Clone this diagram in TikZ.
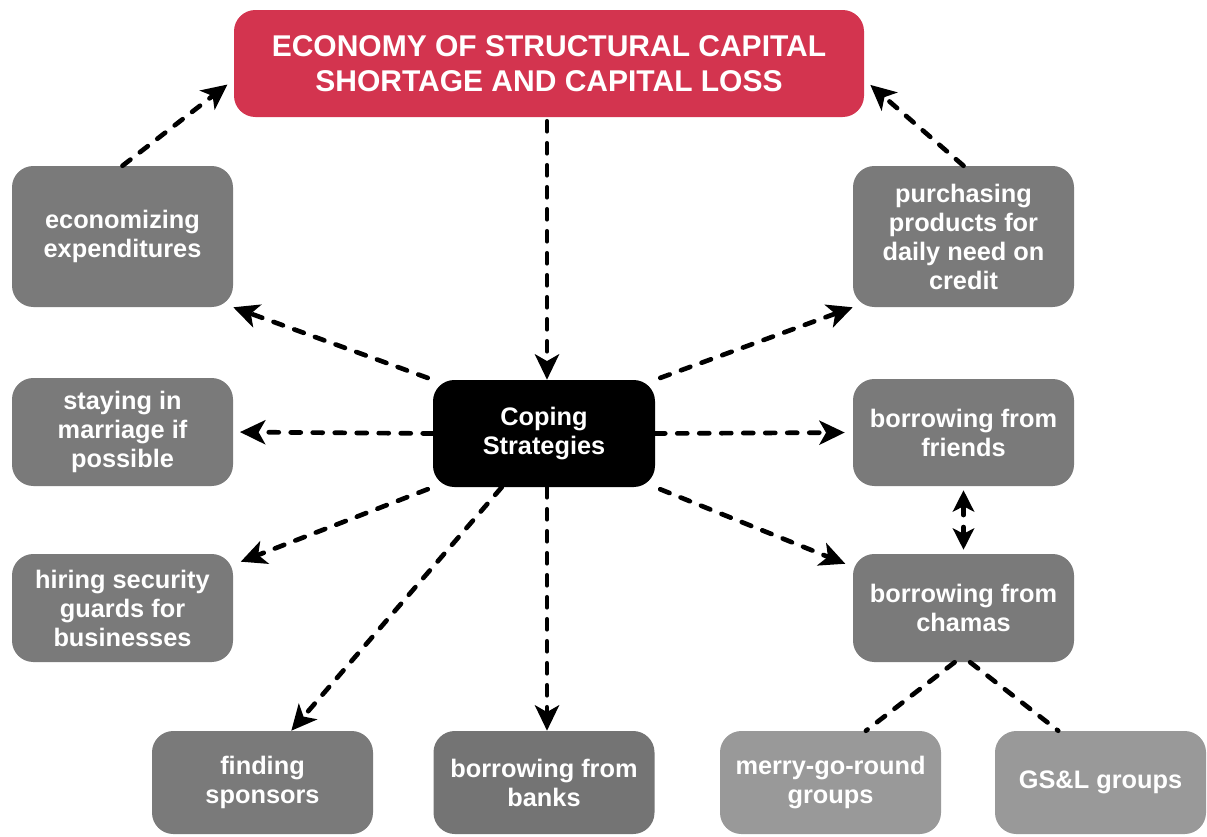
\documentclass[tikz,border=0pt]{standalone}
\usepackage{fontspec}
\setmainfont{Liberation Sans}
\usetikzlibrary{arrows.meta,calc}
\definecolor{titlered}{RGB}{211,52,79}
\definecolor{boxgray}{RGB}{122,122,122}
\definecolor{darkgray}{RGB}{116,116,116}
\definecolor{lightgray}{RGB}{153,153,153}
\tikzset{
  box/.style={rounded corners=16pt, fill=boxgray, text=white, align=center,
    font=\bfseries\fontsize{19}{21.75}\selectfont, minimum width=165.75pt, inner sep=0pt},
  titlebox/.style={box, fill=titlered, minimum width=472.5pt, minimum height=80.25pt,
    font=\bfseries\fontsize{22.5}{26.25}\selectfont},
  link/.style={line width=3.5pt, dash pattern=on 7.5pt off 9pt, line cap=round},
  arr/.style={link, -{Stealth[length=19pt,width=18pt,inset=5pt]}},
  dbl/.style={link, {Stealth[length=16pt,width=16pt,inset=4pt]}-{Stealth[length=16pt,width=16pt,inset=4pt]}}
}
\begin{document}
\begin{tikzpicture}[x=0.75pt,y=-0.75pt]
\useasboundingbox (0,0) rectangle (1207,836);
\node[titlebox] (title) at (549,63.5) {ECONOMY OF STRUCTURAL CAPITAL\\SHORTAGE AND CAPITAL LOSS};
\node[box, minimum height=105.75pt] (econ) at (122.5,236.5) {economizing\\expenditures};
\node[box, minimum height=105.75pt] (purch) at (963.5,236.5) {purchasing\\products for\\daily need on\\credit};
\node[box, minimum height=81pt] (stay) at (122.5,432) {staying in\\marriage if\\possible};
\node[box, fill=black, minimum height=80.25pt, minimum width=166.5pt] (coping) at (544,433.5) {Coping\\Strategies};
\node[box, minimum height=80.25pt] (friends) at (963.5,432.5) {borrowing from\\friends};
\node[box, minimum height=81pt] (hiring) at (122.5,608) {hiring security\\guards for\\businesses};
\node[box, minimum height=81pt] (chamas) at (963.5,608) {borrowing from\\chamas};
\node[box, minimum height=77.25pt] (finding) at (262.5,782.5) {finding\\sponsors};
\node[box, fill=darkgray, minimum height=77.25pt] (banks) at (544,782.5) {borrowing from\\banks};
\node[box, fill=lightgray, minimum height=77.25pt] (merry) at (830.5,782.5) {merry-go-round\\groups};
\node[box, fill=lightgray, minimum height=77.25pt, minimum width=158.25pt] (gsl) at (1100.5,782.5) {GS\&L groups};

\draw[arr, shorten <=3pt] ([xshift=2.25pt]coping.north |- title.south) -- ([xshift=2.25pt]coping.north);
\draw[arr, shorten >=6pt] (econ.north) -- ($(title.south west)!0.35!(title.north west)$);
\draw[arr, shorten >=6pt] (purch.north) -- ($(title.south east)!0.35!(title.north east)$);
\draw[arr, shorten <=4pt] (coping.north west) -- (econ.south east);
\draw[arr, shorten <=4pt] (coping.north east) -- (purch.south west);
\draw[arr, shorten >=5pt] (coping.west) -- (stay.east);
\draw[arr, shorten >=6pt] (coping.east) -- (friends.west);
\draw[arr, shorten <=4pt, shorten >=6pt] (coping.south west) -- ($(hiring.north east)!0.1!(hiring.south east)$);
\draw[arr, shorten <=4pt, shorten >=6pt] (coping.south east) -- ($(chamas.north west)!0.12!(chamas.south west)$);
\draw[arr] ($(coping.south west)!0.31!(coping.south east)$) -- ($(finding.north west)!0.63!(finding.north east)$);
\draw[arr] ([xshift=2.25pt]coping.south) -- ([xshift=2.25pt]banks.north);
\draw[dbl, shorten <=3pt, shorten >=3pt] (friends.south) -- (chamas.north);
\draw[link] ($(chamas.south west)!0.46!(chamas.south east)$) -- ($(merry.north west)!0.66!(merry.north east)$);
\draw[link] ($(chamas.south west)!0.53!(chamas.south east)$) -- ($(gsl.north west)!0.3!(gsl.north east)$);
\end{tikzpicture}
\end{document}
